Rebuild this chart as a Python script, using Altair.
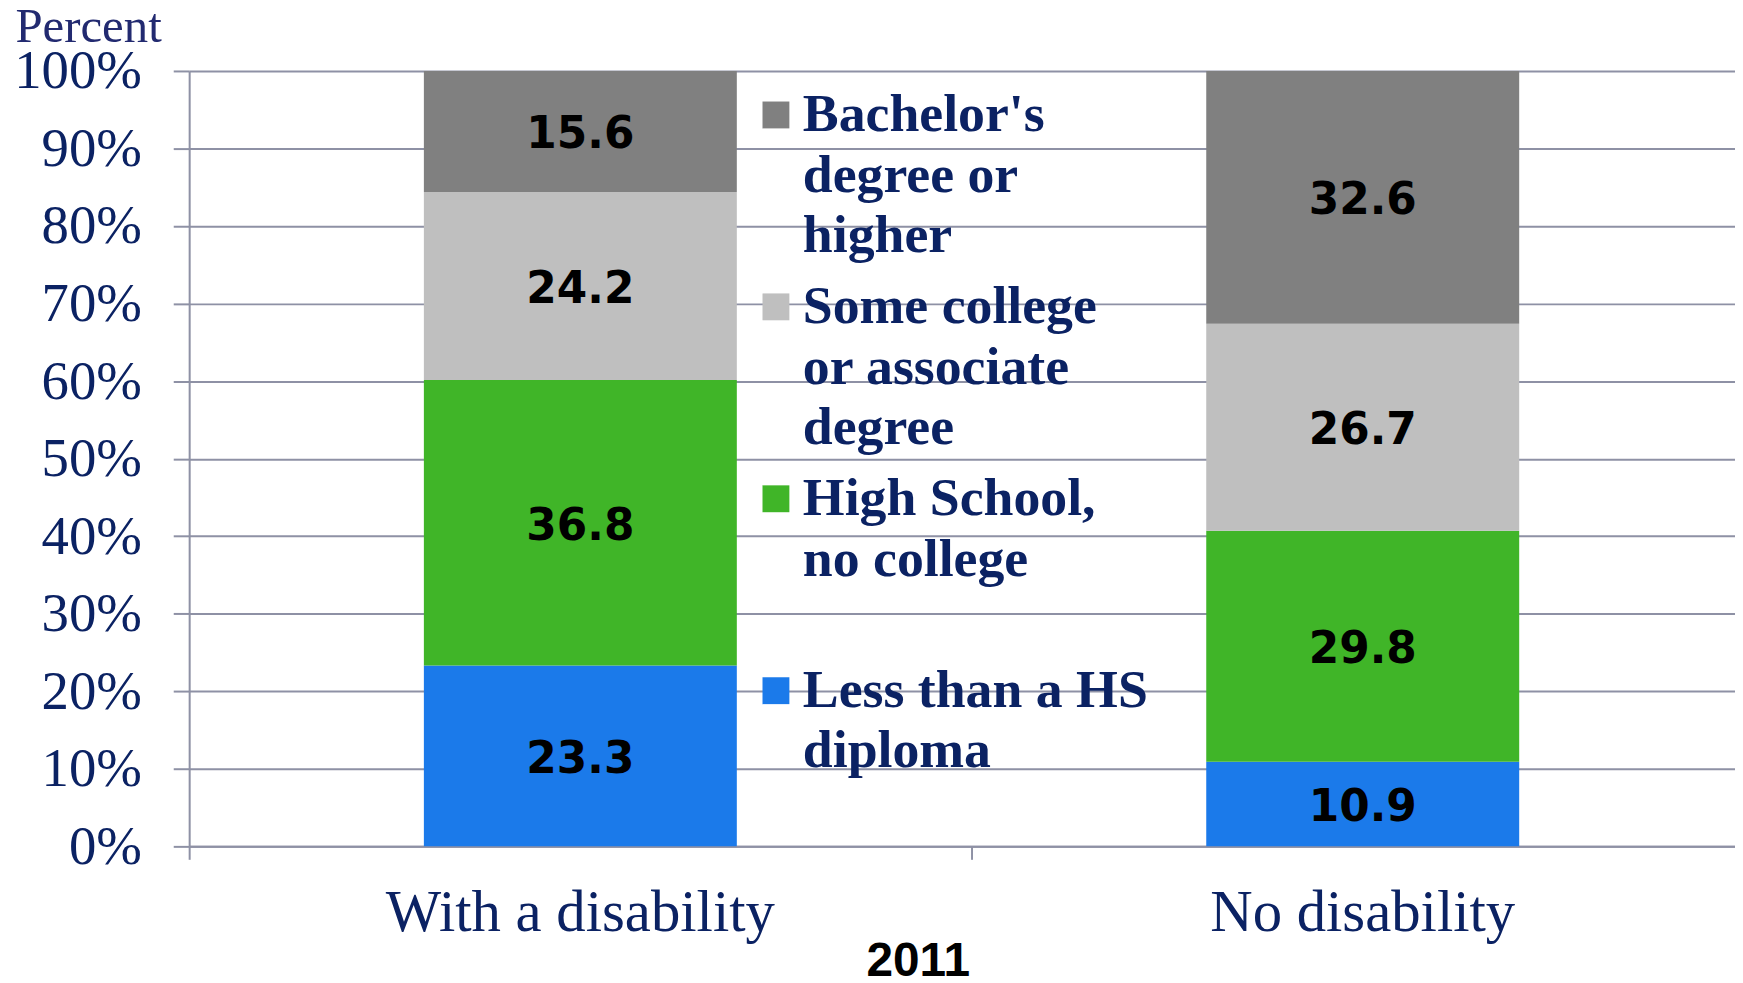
import json
import altair as alt
import pandas as pd

# ---- data ----
groups = ["With a disability", "No disability"]
levels = [
    "Less than a HS diploma",
    "High School, no college",
    "Some college or associate degree",
    "Bachelor's degree or higher",
]
with_disability = [23.3, 36.8, 24.2, 15.6]
no_disability = [10.9, 29.8, 26.7, 32.6]
level_colors = ["#1B7AEA", "#40B528", "#BFBFBF", "#808080"]
legend_lines = [
    ["Less than a HS", "diploma"],
    ["High School,", "no college"],
    ["Some college", "or associate", "degree"],
    ["Bachelor's", "degree or", "higher"],
]
y_ticks = [0, 0.1, 0.2, 0.3, 0.4, 0.5, 0.6, 0.7, 0.8, 0.9, 1.0]
x_title = "2011"
y_title = "Percent"

rows = []
for g, vals in zip(groups, [with_disability, no_disability]):
    for i, (lvl, v) in enumerate(zip(levels, vals)):
        rows.append({"group": g, "level": lvl, "order": i, "value": v})
df = pd.DataFrame(rows)

# ---- styling ----
NAVY = "#0B2263"
GRID = "#8E91A5"
SERIF = "Liberation Serif"

PLOT_W = 1572
PLOT_H = 779

legend_domain = list(reversed(levels))
legend_range = list(reversed(level_colors))

label_expr = ""
for lvl, lines in zip(levels, legend_lines):
    label_expr += f"datum.label == {json.dumps(lvl)} ? {json.dumps(lines)} : "
label_expr += "datum.label"

# square symbol shifted up so that it lines up with the first text line
SYMBOL_PATH = "M-1,-2.222H1V-0.222H-1Z"

base = (
    alt.Chart(df)
    .transform_stack(
        stack="value",
        groupby=["group"],
        as_=["y0", "y1"],
        sort=[alt.SortField("order", order="ascending")],
        offset="normalize",
    )
    .transform_calculate(mid="(datum.y0 + datum.y1) / 2")
)

x_enc = alt.X(
    "group:N",
    sort=groups,
    scale=alt.Scale(paddingInner=0, paddingOuter=0),
    axis=alt.Axis(
        title=x_title,
        titleFont="Liberation Sans",
        titleFontWeight="bold",
        titleFontSize=48,
        titleColor="black",
        titleX=922 - 190,
        titleY=130,
        titleAlign="center",
        titleBaseline="alphabetic",
        labelFont=SERIF,
        labelFontSize=59,
        labelColor=NAVY,
        labelAngle=0,
        labelBaseline="alphabetic",
        labelPadding=72,
        labelLimit=0,
        labelOffset=0,
        bandPosition=0,
        tickSize=13,
        tickWidth=2,
        tickColor=GRID,
        domainColor=GRID,
        domainWidth=2,
        grid=False,
    ),
)

y_axis = alt.Axis(
    values=y_ticks,
    format=".0%",
    labelFont=SERIF,
    labelFontSize=55,
    labelColor=NAVY,
    labelPadding=32,
    tickSize=16,
    tickWidth=2,
    tickColor=GRID,
    domainColor=GRID,
    domainWidth=2,
    grid=True,
    gridColor=GRID,
    gridWidth=2,
    title=y_title,
    titleAngle=0,
    titleX=15 - 190,
    titleY=39 - 69,
    titleAlign="left",
    titleBaseline="alphabetic",
    titleFont=SERIF,
    titleFontSize=49,
    titleFontWeight="normal",
    titleColor="#222A70",
)

bars = base.mark_bar(width=alt.RelativeBandSize(0.4)).encode(
    x=x_enc,
    y=alt.Y("y0:Q", scale=alt.Scale(domain=[0, 1], nice=False), axis=y_axis),
    y2="y1:Q",
    color=alt.Color(
        "level:N",
        scale=alt.Scale(domain=legend_domain, range=legend_range),
        legend=alt.Legend(
            orient="none",
            legendX=562.5,
            legendY=33.7,
            title=None,
            padding=0,
            direction="vertical",
            symbolType=SYMBOL_PATH,
            symbolSize=729,
            symbolStrokeWidth=0,
            symbolOpacity=1,
            labelFont=SERIF,
            labelFontSize=54,
            labelFontWeight="bold",
            labelColor=NAVY,
            labelLimit=0,
            labelOffset=0,
            labelBaseline="alphabetic",
            labelExpr=label_expr,
            gridAlign="all",
            rowPadding=16.8,
        ),
    ),
    order=alt.Order("order:Q"),
)

labels = base.mark_text(
    font="DejaVu Sans", fontWeight="bold", fontSize=44, color="black",
    baseline="middle", dy=4,
).encode(
    x=alt.X("group:N", sort=groups),
    y=alt.Y("mid:Q"),
    text=alt.Text("value:Q", format=".1f"),
)

chart = (
    alt.layer(bars, labels)
    .properties(
        width=PLOT_W,
        height=PLOT_H,
        autosize=alt.AutoSizeParams(type="none"),
        padding={"left": 182, "top": 61, "right": -19, "bottom": 131},
    )
    .configure_view(stroke=None)
    .configure(style={"guide-label": {"lineHeight": 60.6}})
)

chart.save("out.html", embed_options={"renderer": "svg", "actions": False})
